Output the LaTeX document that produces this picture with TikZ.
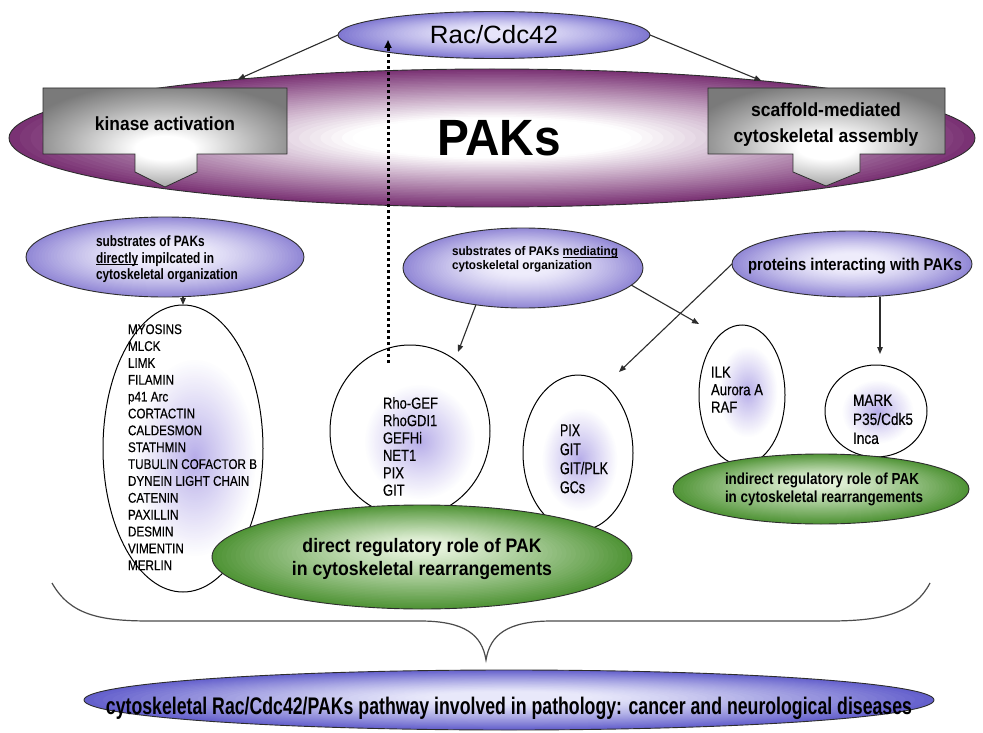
\documentclass[tikz,border=0pt]{standalone}
\usepackage{fontspec}
\setmainfont{Liberation Sans}
\newfontfamily\listfont{Liberation Sans}[FakeBold=0.4]
\usepackage{graphicx}
\usetikzlibrary{shapes.geometric,arrows.meta}

% squeeze a text box horizontally to a given width (in pt), keeping its height
\newcommand\hfit[2]{\resizebox{#1pt}{\height}{#2}}
% underline sitting just below the baseline
\newsavebox\ulbox
\newcommand\ulword[1]{\begingroup\sbox\ulbox{#1}\rlap{\rule[-1.6pt]{\wd\ulbox}{0.8pt}}\usebox\ulbox\endgroup}

% concentric-ellipse gradient:
% #1,#2 centre  #3,#4 radii  #5 rim colour  #6 core colour
% #7 radius fraction of the plain core  #8 profile exponent  #9 vertical drift of the core
\newcommand\gradEllipse[9]{%
  \foreach \gi in {0,...,44}{%
    \pgfmathsetmacro\gradS{1-\gi/45}%
    \pgfmathsetmacro\gradT{100*(max(0.0001,(\gradS-#7)/(1-#7)))^(#8)}%
    \pgfmathsetmacro\gradY{#2+(1-\gradS)*(#9)}%
    \pgfmathsetmacro\gradRX{#3*\gradS}%
    \pgfmathsetmacro\gradRY{#4*\gradS}%
    \fill[#5!\gradT!#6] (#1,\gradY) ellipse [x radius=\gradRX, y radius=\gradRY];
  }}

\definecolor{lineCol}{RGB}{45,45,45}
\definecolor{lavEdge}{RGB}{146,136,214}
\definecolor{lavCore}{RGB}{238,236,251}
\definecolor{racEdge}{RGB}{128,120,210}
\definecolor{racCore}{RGB}{230,228,250}
\definecolor{pakEdge}{RGB}{122,50,116}
\definecolor{grnEdge}{RGB}{80,148,54}
\definecolor{grnCore}{RGB}{228,242,218}
\definecolor{bluEdge}{RGB}{100,96,204}
\definecolor{bluCore}{RGB}{232,232,250}
\definecolor{boxGray}{RGB}{122,122,122}
\definecolor{glow}{RGB}{180,170,232}

\pgfdeclareradialshading{grayshade}{\pgfpoint{0bp}{-6bp}}{color(0bp)=(white); color(6bp)=(white); color(20bp)=(boxGray!60!white); color(30bp)=(boxGray); color(50bp)=(boxGray)}

\begin{document}
\begin{tikzpicture}[x=1pt,y=-1pt,
  base/.style={ellipse, inner sep=0pt, outer sep=0pt, draw=lineCol, line width=0.9pt},
  listE/.style={base, draw=black, line width=1pt, fill=white},
  callout/.style={draw=lineCol, line width=0.8pt, shade, shading=grayshade},
  txt/.style={inner sep=0pt, outer sep=0pt, text=black},
  arr/.style={draw=lineCol, line width=1.1pt, -{Triangle[length=7pt,width=5.5pt]}},
  dotarrow/.style={draw=black, line width=3pt, dash pattern=on 3pt off 3pt, -{Triangle[length=8pt,width=7pt]}},
  bracestyle/.style={draw=lineCol!85, line width=1.2pt}
]
\useasboundingbox (0,0) rectangle (983,733);
\fill[white] (0,0) rectangle (983,733);

% ---- PAKs with the two functional callouts
\gradEllipse{492}{138}{483}{69}{pakEdge}{white}{0.3}{1.0}{0}
\node[base, minimum width=966pt, minimum height=138pt] (paks) at (492,138) {};
\node[txt] (paksT) at (499,138) {\hfit{124}{\fontsize{51}{51}\selectfont\bfseries PAKs}};

\path[callout] (43,88) -- (287,88) -- (287,154) -- (197,154) -- (197,172) -- (165,187)
  -- (135,172) -- (135,154) -- (43,154) -- cycle;
\node[txt] (kinT) at (165,124) {\hfit{140}{\fontsize{19}{24}\selectfont\bfseries kinase activation}};

\path[callout] (708,88) -- (945,88) -- (945,154) -- (860,154) -- (860,172) -- (826,186)
  -- (793,172) -- (793,154) -- (708,154) -- cycle;
\node[txt] (scafT) at (826,124) {\hfit{185}{\fontsize{19}{26}\selectfont\bfseries
  \begin{tabular}{@{}c@{}}scaffold-mediated\\cytoskeletal assembly\end{tabular}}};

% ---- Rac/Cdc42
\gradEllipse{494}{35}{156}{23.5}{racEdge}{racCore}{0.2}{1.3}{-3}
\node[base, minimum width=312pt, minimum height=47pt] (rac) at (494,35) {};
\node[txt] (racT) at (494,35) {\hfit{128}{\fontsize{25}{25}\selectfont Rac/Cdc42}};

\draw[arr] (rac.west) -- (paks.167.8);
\draw[arr] (rac.east) -- (paks.12.2);

% ---- second row: groups of PAK partners
\gradEllipse{165}{257}{139}{40}{lavEdge}{lavCore}{0.25}{1.3}{-4}
\node[base, minimum width=278pt, minimum height=80pt] (sub1) at (165,257) {};
\node[txt, anchor=west] (sub1T) at (96,259.7) {\hfit{142}{\fontsize{15}{16.5}\selectfont\bfseries
  \begin{tabular}{@{}l@{}}substrates of PAKs\\\ulword{directly} impilcated in\\cytoskeletal organization\end{tabular}}};

\gradEllipse{523}{268}{120}{40}{lavEdge}{lavCore}{0.25}{1.3}{-4}
\node[base, minimum width=240pt, minimum height=80pt] (sub2) at (523,268) {};
\node[txt, anchor=west] (sub2T) at (452,260) {\hfit{166}{\fontsize{12.5}{14}\selectfont\bfseries
  \begin{tabular}{@{}l@{}}substrates of PAKs \ulword{mediating}\\cytoskeletal organization\end{tabular}}};

\gradEllipse{852}{264}{120}{33}{lavEdge}{lavCore}{0.25}{1.3}{-3}
\node[base, minimum width=240pt, minimum height=66pt] (prot) at (852,264) {};
\node[txt, anchor=west] (protT) at (748,266) {\hfit{214}{\fontsize{17}{17}\selectfont\bfseries proteins interacting with PAKs}};

% ---- protein lists, each with a soft lavender haze
\node[listE, minimum width=160pt, minimum height=287pt] (list1) at (183,448.5) {};
\node[listE, minimum width=160pt, minimum height=172pt] (rho) at (410,431) {};
\node[listE, minimum width=110pt, minimum height=156pt] (pix) at (578,453) {};
\node[listE, minimum width=86pt, minimum height=140pt] (ilk) at (742,395) {};
\node[listE, minimum width=102pt, minimum height=92pt] (mark) at (876,411) {};
\gradEllipse{195}{458}{62}{100}{white}{glow}{0}{0.9}{0}
\gradEllipse{420}{442}{56}{58}{white}{glow}{0}{0.9}{0}
\gradEllipse{580}{460}{38}{52}{white}{glow}{0}{0.9}{0}
\gradEllipse{748}{392}{30}{46}{white}{glow}{0}{0.9}{0}
\gradEllipse{878}{412}{36}{32}{white}{glow}{0}{0.9}{0}

% ---- regulatory roles
\gradEllipse{422}{557}{210}{52}{grnEdge}{grnCore}{0.12}{1.1}{-12}
\node[base, minimum width=420pt, minimum height=104pt] (direct) at (422,557) {};
\gradEllipse{821}{489}{148}{35}{grnEdge}{grnCore}{0.12}{1.1}{-8}
\node[base, minimum width=296pt, minimum height=70pt] (indirect) at (821,489) {};

\node[txt, anchor=west] (list1T) at (128,448.7) {\hfit{129}{\fontsize{14}{16.86}\listfont
  \begin{tabular}{@{}l@{}}MYOSINS\\MLCK\\LIMK\\FILAMIN\\p41 Arc\\CORTACTIN\\CALDESMON\\STATHMIN\\
  TUBULIN COFACTOR B\\DYNEIN LIGHT CHAIN\\CATENIN\\PAXILLIN\\DESMIN\\VIMENTIN\\MERLIN\end{tabular}}};
\node[txt, anchor=west] (rhoT) at (383,448.7) {\hfit{55}{\fontsize{16}{17.4}\listfont
  \begin{tabular}{@{}l@{}}Rho-GEF\\RhoGDI1\\GEFHi\\NET1\\PIX\\GIT\end{tabular}}};
\node[txt, anchor=west] (pixT) at (560,460.8) {\hfit{48}{\fontsize{17}{19}\listfont
  \begin{tabular}{@{}l@{}}PIX\\GIT\\GIT/PLK\\GCs\end{tabular}}};
\node[txt, anchor=west] (ilkT) at (711,391.7) {\hfit{52}{\fontsize{16}{17.5}\listfont
  \begin{tabular}{@{}l@{}}ILK\\Aurora A\\RAF\end{tabular}}};
\node[txt, anchor=west] (markT) at (853,421.1) {\hfit{60}{\fontsize{16.5}{19}\listfont
  \begin{tabular}{@{}l@{}}MARK\\P35/Cdk5\\Inca\end{tabular}}};

\node[txt] (directT) at (422,559.75) {\hfit{260}{\fontsize{19.5}{23}\selectfont\bfseries
  \begin{tabular}{@{}c@{}}direct regulatory role of PAK\\in cytoskeletal rearrangements\end{tabular}}};
\node[txt, anchor=west] (indirectT) at (725,490.2) {\hfit{198}{\fontsize{16}{18}\selectfont\bfseries
  \begin{tabular}{@{}l@{}}indirect regulatory role of PAK\\in cytoskeletal rearrangements\end{tabular}}};

% ---- connectors between groups
\coordinate (rhoIn) at (458,352);
\coordinate (ilkIn) at (699,324);
\coordinate (pixIn) at (619,372);
\coordinate (markIn) at (880,354);
\draw[arr] (list1.north |- sub1.south) -- (list1.north);
\draw[arr] (sub2.218.7) -- (rhoIn);
\draw[arr] (sub2.-9.8) -- (ilkIn);
\draw[arr] (prot.west) -- (pixIn);
\draw[arr] (markIn |- prot.south) -- (markIn);

% ---- feedback from the direct substrates to Rac/Cdc42
\coordinate (dotS) at (388,363);
\coordinate (dotE) at (388,40);
\draw[dotarrow] (dotS) -- (dotE);

% ---- summary brace and pathology
\draw[bracestyle] (52,583) .. controls (70,615) and (100,621) .. (150,621) -- (420,621)
  .. controls (465,621) and (482,635) .. (486,660)
  .. controls (490,635) and (507,621) .. (552,621) -- (830,621)
  .. controls (885,621) and (915,612) .. (930,583);

\gradEllipse{509}{700}{425}{30}{bluEdge}{bluCore}{0.2}{1.2}{-3}
\node[base, minimum width=850pt, minimum height=60pt] (patho) at (509,700) {};
\node[txt] (pathoT) at (509,708) {\hfit{806}{\fontsize{24}{24}\selectfont\bfseries
  cytoskeletal Rac/Cdc42/PAKs pathway involved in pathology: cancer and neurological diseases}};
\end{tikzpicture}
\end{document}
